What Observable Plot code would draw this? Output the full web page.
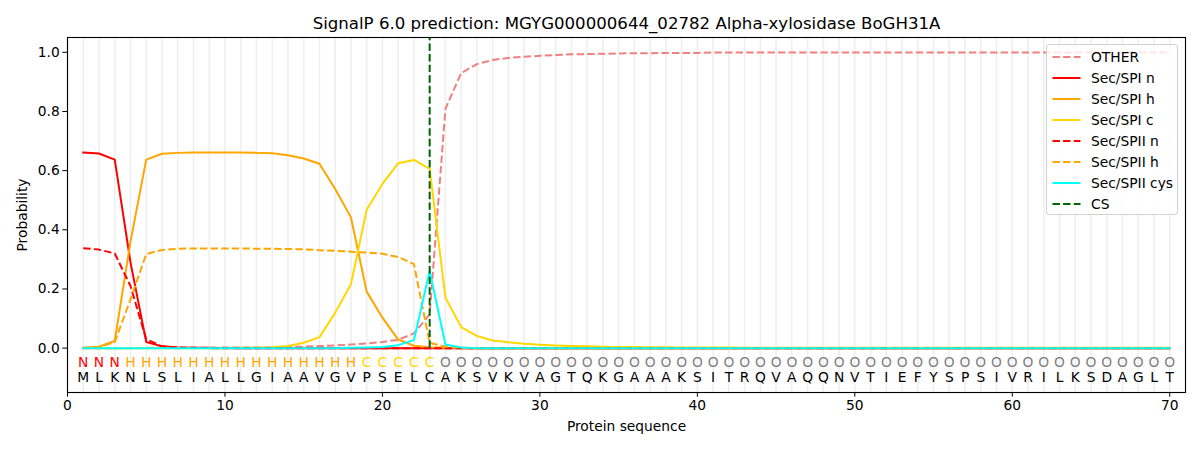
<!DOCTYPE html>
<html>
<head>
<meta charset="utf-8">
<script src="https://cdn.jsdelivr.net/npm/d3@7"></script>
<script src="https://cdn.jsdelivr.net/npm/@observablehq/plot@0.6"></script>
<style>
  html, body { margin: 0; padding: 0; background: #fff; }
  #wrap { position: relative; width: 1200px; height: 450px; font-family: "DejaVu Sans", sans-serif; }
  #legend { position: absolute; left: 1046px; top: 44px; width: 132px; height: 171px;
            border: 1px solid #d0d0d0; border-radius: 3px; background: rgba(255,255,255,0.8); box-sizing: border-box; }
  #legend .row { position: absolute; left: 0; height: 20px; width: 130px; }
  #legend svg { position: absolute; left: 5px; top: 0; }
  #legend span { position: absolute; left: 44px; top: 1px; font-size: 13.8px; color: #000; white-space: nowrap; line-height: 18px; }
</style>
</head>
<body>
<div id="wrap"></div>
<script>
const title = "SignalP 6.0 prediction: MGYG000000644_02782 Alpha-xylosidase BoGH31A";
const residues = "MLKNLSLIALLGIAAVGVPSELCAKSVKVAGTQKGAAAKSITRQVAQQNVTIEFYSPSIVRILKSDAGLT".split("");
const regionLabels = "NNNHHHHHHHHHHHHHHHCCCCCOOOOOOOOOOOOOOOOOOOOOOOOOOOOOOOOOOOOOOOOOOOOOOO".split("");
const positions = d3.range(1, 71);
const xTicks = [0, 10, 20, 30, 40, 50, 60, 70];
const yTicks = [0, 0.2, 0.4, 0.6, 0.8, 1.0];
const csPosition = 23;

const other = [0,0,0,0,0.001,0.001,0.001,0.001,0.001,0.002,0.002,0.002,0.003,0.004,0.005,0.007,0.009,0.012,0.016,0.021,
  0.028,0.05,0.114,0.809,0.93,0.96,0.974,0.981,0.985,0.988,0.991,0.993,0.994,0.995,0.996,0.997,0.997,0.998,0.998,0.998,
  0.999,0.999,0.999,0.999,0.999,0.999,0.999,0.999,0.999,0.999,0.999,0.999,0.999,0.999,0.999,0.999,0.999,0.999,0.999,0.999,
  0.999,0.999,0.999,0.999,0.999,0.999,0.999,0.999,0.999,0.999];
const spiN = [0.661,0.658,0.637,0.29,0.021,0.006,0.002,0.001,0.001,0,0,0,0,0,0,0,0,0,0,0,
  0,0,0,0,0,0,0,0,0,0,0,0,0,0,0,0,0,0,0,0,0,0,0,0,0,0,0,0,0,0,0,0,0,0,0,0,0,0,0,0,0,0,0,0,0,0,0,0,0,0];
const spiH = [0.001,0.005,0.024,0.36,0.637,0.657,0.660,0.661,0.661,0.661,0.661,0.660,0.659,0.652,0.641,0.623,0.538,0.442,0.191,0.103,
  0.029,0.008,0.003,0.001,0,0,0,0,0,0,0,0,0,0,0,0,0,0,0,0,0,0,0,0,0,0,0,0,0,0,0,0,0,0,0,0,0,0,0,0,0,0,0,0,0,0,0,0,0,0];
const spiC = [0,0,0,0,0,0,0,0,0,0,0.001,0.001,0.003,0.007,0.018,0.037,0.12,0.216,0.468,0.555,
  0.625,0.636,0.606,0.171,0.071,0.041,0.026,0.02,0.015,0.011,0.009,0.007,0.006,0.005,0.004,0.004,0.003,0.003,0.002,0.002,
  0.002,0.002,0.001,0.001,0.001,0.001,0.001,0.001,0.001,0.001,0.001,0.001,0.001,0.001,0.001,0.001,0.001,0.001,0.001,0.001,
  0.001,0.001,0.001,0.001,0.001,0.001,0.001,0.001,0.001,0.001];
const spiiN = [0.338,0.333,0.320,0.21,0.03,0.006,0.002,0.001,0,0,0,0,0,0,0,0,0,0,0,0,
  0,0,0,0,0,0,0,0,0,0,0,0,0,0,0,0,0,0,0,0,0,0,0,0,0,0,0,0,0,0,0,0,0,0,0,0,0,0,0,0,0,0,0,0,0,0,0,0,0,0];
const spiiH = [0.001,0.004,0.02,0.165,0.318,0.332,0.336,0.337,0.337,0.337,0.337,0.336,0.336,0.335,0.334,0.331,0.329,0.326,0.323,0.319,
  0.308,0.284,0.018,0.005,0.001,0,0,0,0,0,0,0,0,0,0,0,0,0,0,0,0,0,0,0,0,0,0,0,0,0,0,0,0,0,0,0,0,0,0,0,0,0,0,0,0,0,0,0,0,0];
const spiiCys = [0,0,0,0,0,0,0,0,0,0,0,0,0,0,0,0,0,0.001,0.002,0.004,
  0.01,0.027,0.261,0.012,0.002,0,0,0,0,0,0,0,0,0,0,0,0,0,0,0,0,0,0,0,0,0,0,0,0,0,0,0,0,0,0,0,0,0,0,0,0,0,0,0,0,0,0,0,0,0];

const DASH = "7.4,3.2";
const FS = 13.8;
const seriesDefs = [
  {name: "OTHER", values: other, color: "#f08080", dash: DASH},
  {name: "Sec/SPI n", values: spiN, color: "red", dash: null},
  {name: "Sec/SPI h", values: spiH, color: "orange", dash: null},
  {name: "Sec/SPI c", values: spiC, color: "gold", dash: null},
  {name: "Sec/SPII n", values: spiiN, color: "red", dash: DASH},
  {name: "Sec/SPII h", values: spiiH, color: "orange", dash: DASH},
  {name: "Sec/SPII cys", values: spiiCys, color: "cyan", dash: null}
];
const labelColor = {N: "red", H: "orange", C: "gold", O: "gray"};

const labelRows = positions.map((p, i) => ({pos: p, lab: regionLabels[i], res: residues[i]}));

const lineMarks = seriesDefs.map(s =>
  Plot.line(positions.map((p, i) => ({pos: p, v: s.values[i]})), {
    x: "pos", y: "v", stroke: s.color, strokeWidth: 2,
    strokeDasharray: s.dash || undefined, strokeLinejoin: "round", strokeLinecap: s.dash ? "butt" : "square"
  })
);

const chart = Plot.plot({
  width: 1200,
  height: 450,
  marginLeft: 67,
  marginRight: 15,
  marginTop: 37,
  marginBottom: 58,
  style: {fontFamily: "DejaVu Sans, sans-serif", fontSize: FS + "px", color: "#000", background: "#fff"},
  x: {domain: [0, 71]},
  y: {domain: [-0.15, 1.05]},
  marks: [
    Plot.ruleX(d3.range(0, 71), {stroke: "#efefef", strokeWidth: 1.6}),
    ...lineMarks,
    Plot.ruleX([csPosition], {y1: 0, y2: 1.05, stroke: "darkgreen", strokeWidth: 2, strokeDasharray: DASH}),
    Plot.text(labelRows, {x: "pos", y: () => -0.05, text: "lab", fill: d => labelColor[d.lab], fontSize: FS, lineAnchor: "middle"}),
    Plot.text(labelRows, {x: "pos", y: () => -0.1, text: "res", fill: "#000", fontSize: FS, lineAnchor: "middle"}),
    Plot.text([title], {frameAnchor: "top", dy: -14, fontSize: 16.6, fill: "#000", lineAnchor: "middle"}),
    Plot.frame({stroke: "#000", strokeWidth: 1.1}),
    Plot.axisX({ticks: xTicks, tickFormat: d3.format("d"), tickSize: 4.7, tickPadding: 3, fontSize: FS,
      label: "Protein sequence", labelAnchor: "center", labelArrow: "none", labelOffset: 38}),
    Plot.axisY({ticks: yTicks, tickFormat: d3.format(".1f"), tickSize: 4.7, tickPadding: 3, fontSize: FS,
      label: "Probability", labelAnchor: "center", labelArrow: "none", labelOffset: 50})
  ]
});
const wrap = document.getElementById("wrap");
wrap.appendChild(chart);

// legend
const legendItems = [...seriesDefs.map(s => ({name: s.name, color: s.color, dash: s.dash})),
  {name: "CS", color: "darkgreen", dash: DASH}];
const legend = document.createElement("div");
legend.id = "legend";
legendItems.forEach((it, i) => {
  const row = document.createElement("div");
  row.className = "row";
  row.style.top = (2 + i * 20.94) + "px";
  row.innerHTML = `<svg width="30" height="20"><line x1="0.5" x2="28.5" y1="10" y2="10" stroke="${it.color}" stroke-width="2" ${it.dash ? `stroke-dasharray="${it.dash}"` : ""}/></svg><span>${it.name}</span>`;
  legend.appendChild(row);
});
wrap.appendChild(legend);
</script>
</body>
</html>
